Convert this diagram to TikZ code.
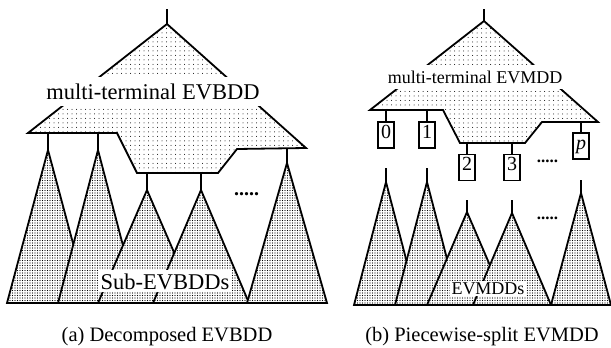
\documentclass[tikz,border=0pt]{standalone}
\usepackage{fontspec}
\setmainfont{Liberation Serif}
\usetikzlibrary{patterns.meta, positioning}

\begin{document}
\begin{tikzpicture}[x=1pt, y=-1pt, line width=1.8pt, line join=miter,
    topdots/.style={draw, preaction={fill=white}, pattern={Dots[distance=4.5pt, radius=0.5pt]}},
    tridots/.style={draw, preaction={fill=white}, pattern={Dots[distance=2.5pt, radius=0.6pt]}},
    lbl/.style={fill=white, anchor=base, text depth=0pt},
    term/.style={draw, fill=white, line width=1.4pt, minimum width=16pt, minimum height=26pt,
        inner sep=0pt, text height=0.68em, text depth=0pt, font=\fontsize{20}{20}\selectfont},
    more/.style={anchor=base, inner sep=0pt, font=\fontsize{20}{20}\selectfont\bfseries}]

    \useasboundingbox (0,0) rectangle (611,348);

    % (a) multi-terminal EVBDD on the left
    \coordinate (rootA) at (167,9);
    \coordinate (apexA) at (167,24);
    \draw (rootA) -- (apexA);
    \draw[topdots] (apexA) -- (306,148) -- (237,149) -- (218,173) -- (137,173)
        -- (117,133) -- (28,133) -- cycle;

    % sub-EVBDDs hanging below
    \foreach \x/\yt/\ya/\w [count=\i] in {48/133/150/41, 98/133/150/40, 147/173/190/49,
        201/173/190/48, 287/149/163/40} {
        \coordinate (stubA\i) at (\x,\yt);
        \coordinate (subA\i) at (\x,\ya);
        \draw[tridots] (subA\i) -- (\x-\w,303) -- (\x+\w,303) -- cycle;
        \draw (stubA\i) -- (subA\i);
    }
    \node[more] (dotsA) at (246.5,195) {.....};

    \node[lbl, inner xsep=2pt, inner ysep=6.5pt, font=\fontsize{22.5}{27}\selectfont]
        (mtA) at (153,99) {multi-terminal EVBDD};
    \node[lbl, inner sep=3pt, font=\fontsize{22.5}{27}\selectfont]
        (subA) at (165,289) {Sub-EVBDDs};
    \node[anchor=base, font=\fontsize{20.5}{24}\selectfont] (capA) at (167,341) {(a) Decomposed EVBDD};

    % (b) multi-terminal EVMDD on the right
    \coordinate (rootB) at (484,9);
    \coordinate (apexB) at (484,21);
    \draw (rootB) -- (apexB);
    \draw[topdots] (apexB) -- (598,122) -- (542,122) -- (525,143) -- (460,143)
        -- (443,110) -- (370,110) -- cycle;

    % terminals 0 ... p
    \node[term] (t0) at (386,135) {0};
    \node[term] (t1) at (427,135) {1};
    \node[term] (t2) at (467,167.5) {2};
    \node[term] (t3) at (512,167.5) {3};
    \node[term] (tp) at (581,146) {\textit{p}};
    \node[more, font=\fontsize{17}{17}\selectfont\bfseries] (dotsB) at (547.5,162) {.....};
    \draw (386,110) coordinate (s0) -- (t0.north);
    \draw (427,110) coordinate (s1) -- (t1.north);
    \draw (467,143) coordinate (s2) -- (t2.north);
    \draw (512,143) coordinate (s3) -- (t3.north);
    \draw (581,122) coordinate (sp) -- (tp.north);

    % EVMDDs, one per terminal
    \foreach \x/\yt/\ya/\w [count=\i] in {386/168/182/32, 427/168/182/32, 467/200/212/40,
        512/200/213/39, 581/180/193/30} {
        \coordinate (stubB\i) at (\x,\yt);
        \coordinate (subB\i) at (\x,\ya);
        \draw[tridots] (subB\i) -- (\x-\w,305) -- (\x+\w,305) -- cycle;
        \draw (stubB\i) -- (subB\i);
    }
    \node[more, font=\fontsize{17}{17}\selectfont\bfseries] (dotsC) at (547.5,219) {.....};

    \node[lbl, inner xsep=2pt, inner ysep=5.5pt, font=\fontsize{18}{22}\selectfont]
        (mtB) at (475,83) {multi-terminal EVMDD};
    \node[lbl, inner sep=1.5pt, font=\fontsize{18}{22}\selectfont]
        (subB) at (488,294) {EVMDDs};
    \node[anchor=base, font=\fontsize{20.5}{24}\selectfont] (capB) at (482,341) {(b) Piecewise-split EVMDD};

\end{tikzpicture}
\end{document}
